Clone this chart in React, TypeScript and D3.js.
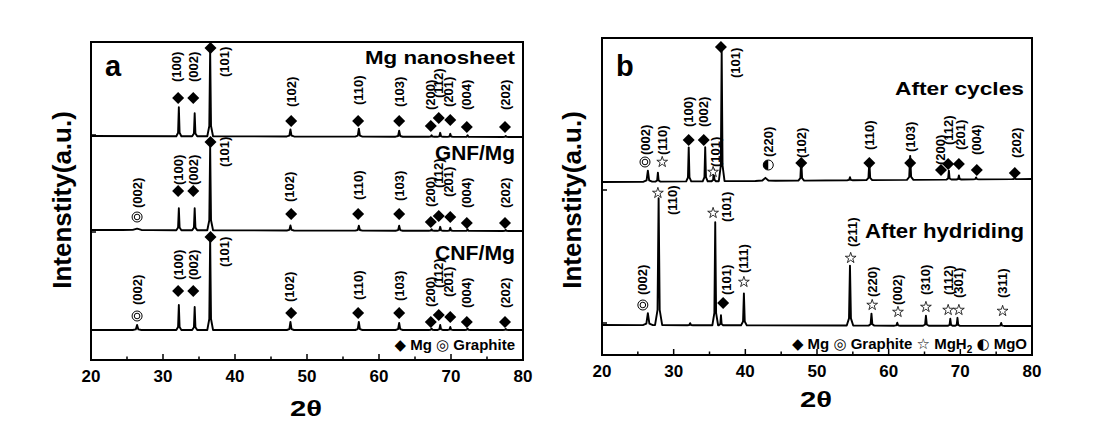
import * as d3 from "d3";

const W = 1116;
const H = 433;
const FONT = "'Liberation Sans', Arial, Helvetica, sans-serif";

// [2θ, height above baseline, half width at the foot]
type Peak = [number, number, number];
// ph: Mg | C (graphite) | H (MgH2) | O (MgO); m = marker level, ll = level of the label foot, lt = label 2θ
type Mark = { ph: string; t: number; m: number; hkl: string; ll: number; lt?: number };

const majorTicks = [20, 30, 40, 50, 60, 70, 80];
const minorTicks = [25, 35, 45, 55, 65, 75];

// ---------- panel a ----------
const nanosheetBase: [number, number][] = [[20, 224], [80, 223]];
const nanosheetPeaks: Peak[] = [
  [32.2, 29, 0.35], [34.4, 23, 0.35], [36.55, 86, 0.4], [47.7, 7, 0.5], [57.2, 8, 0.5],
  [62.8, 6, 0.5], [67.3, 1.5, 0.4], [68.5, 4, 0.4], [69.9, 3, 0.4], [72.3, 1.5, 0.4], [77.6, 1, 0.4],
];
const gnfBase: [number, number][] = [[20, 130], [80, 129]];
const gnfPeaks: Peak[] = [
  [26.4, 1.5, 2], [32.2, 22, 0.35], [34.4, 22, 0.35], [36.55, 84, 0.4], [47.7, 5, 0.5], [57.2, 5, 0.5],
  [62.8, 5, 0.5], [67.3, 1.5, 0.4], [68.5, 4, 0.4], [69.9, 3, 0.4], [72.3, 1.5, 0.4], [77.6, 1, 0.4],
];
const cnfBase: [number, number][] = [[20, 30], [80, 30]];
const cnfPeaks: Peak[] = [
  [26.4, 5, 0.6], [32.2, 25, 0.35], [34.4, 23, 0.35], [36.55, 92, 0.4], [47.7, 8, 0.5], [57.2, 8, 0.5],
  [62.8, 7, 0.5], [67.3, 1.5, 0.4], [68.5, 5, 0.4], [69.9, 3, 0.4], [72.3, 1.5, 0.4], [77.6, 1, 0.4],
];

const nanosheetMarks: Mark[] = [
  { ph: "Mg", t: 32.1, m: 262, hkl: "(100)", ll: 278, lt: 31.9 },
  { ph: "Mg", t: 34.2, m: 262, hkl: "(002)", ll: 278 },
  { ph: "Mg", t: 36.6, m: 312, hkl: "(101)", ll: 283, lt: 38.6 },
  { ph: "Mg", t: 47.8, m: 239, hkl: "(102)", ll: 253 },
  { ph: "Mg", t: 57.1, m: 239, hkl: "(110)", ll: 255 },
  { ph: "Mg", t: 62.8, m: 239, hkl: "(103)", ll: 253 },
  { ph: "Mg", t: 67.2, m: 234, hkl: "(200)", ll: 250, lt: 67.1 },
  { ph: "Mg", t: 68.3, m: 242, hkl: "(112)", ll: 262, lt: 68.2 },
  { ph: "Mg", t: 69.9, m: 240, hkl: "(201)", ll: 253, lt: 69.6 },
  { ph: "Mg", t: 72.2, m: 233, hkl: "(004)", ll: 250 },
  { ph: "Mg", t: 77.5, m: 233, hkl: "(202)", ll: 250 },
];
const gnfMarks: Mark[] = [
  { ph: "C", t: 26.4, m: 143, hkl: "(002)", ll: 152 },
  { ph: "Mg", t: 32.1, m: 169, hkl: "(100)", ll: 175 },
  { ph: "Mg", t: 34.2, m: 169, hkl: "(002)", ll: 175 },
  { ph: "Mg", t: 36.6, m: 218, hkl: "(101)", ll: 193, lt: 38.5 },
  { ph: "Mg", t: 47.8, m: 146, hkl: "(102)", ll: 158, lt: 47.5 },
  { ph: "Mg", t: 57.1, m: 146, hkl: "(110)", ll: 160 },
  { ph: "Mg", t: 62.8, m: 146, hkl: "(103)", ll: 159 },
  { ph: "Mg", t: 67.2, m: 138, hkl: "(200)", ll: 153, lt: 67.1 },
  { ph: "Mg", t: 68.3, m: 144, hkl: "(112)", ll: 172, lt: 68.2 },
  { ph: "Mg", t: 69.9, m: 143, hkl: "(201)", ll: 163, lt: 69.6 },
  { ph: "Mg", t: 72.2, m: 137, hkl: "(004)", ll: 152 },
  { ph: "Mg", t: 77.5, m: 137, hkl: "(202)", ll: 152 },
];
const cnfMarks: Mark[] = [
  { ph: "C", t: 26.4, m: 44, hkl: "(002)", ll: 55 },
  { ph: "Mg", t: 32.1, m: 69, hkl: "(100)", ll: 80 },
  { ph: "Mg", t: 34.2, m: 69, hkl: "(002)", ll: 80 },
  { ph: "Mg", t: 36.6, m: 123, hkl: "(101)", ll: 93, lt: 38.6 },
  { ph: "Mg", t: 47.8, m: 47, hkl: "(102)", ll: 58, lt: 47.5 },
  { ph: "Mg", t: 57.1, m: 47, hkl: "(110)", ll: 60 },
  { ph: "Mg", t: 62.8, m: 47, hkl: "(103)", ll: 59 },
  { ph: "Mg", t: 67.2, m: 38, hkl: "(200)", ll: 53, lt: 67.1 },
  { ph: "Mg", t: 68.3, m: 45, hkl: "(112)", ll: 72, lt: 68.2 },
  { ph: "Mg", t: 69.9, m: 43, hkl: "(201)", ll: 63, lt: 69.6 },
  { ph: "Mg", t: 72.2, m: 38, hkl: "(004)", ll: 52 },
  { ph: "Mg", t: 77.5, m: 38, hkl: "(202)", ll: 52 },
];
const yTicksA = [30, 128, 225];

// ---------- panel b ----------
const cyclesBase: [number, number][] = [[20, 173], [80, 176]];
const cyclesPeaks: Peak[] = [
  [26.4, 11, 0.6], [27.8, 9, 0.35], [32.1, 34, 0.35], [34.4, 34, 0.35], [35.6, 12, 0.3], [36.7, 131, 0.4],
  [42.8, 3, 1.4], [47.8, 21, 0.4], [54.6, 3, 0.4], [57.3, 19, 0.4], [63.0, 24, 0.45],
  [68.4, 9, 0.35], [69.8, 4, 0.35], [72.2, 2, 0.4], [77.6, 1.5, 0.4],
];
const hydridingBase: [number, number][] = [[20, 30], [80, 29]];
const hydridingPeaks: Peak[] = [
  [26.4, 12, 0.7], [27.9, 127, 0.5], [32.3, 2, 0.4], [35.8, 103, 0.4], [36.6, 10, 0.3], [39.8, 32, 0.4],
  [54.6, 60, 0.45], [57.6, 12, 0.4], [61.2, 3, 0.4], [65.2, 10, 0.4], [68.6, 7, 0.35], [69.6, 8, 0.35],
  [75.7, 3, 0.4],
];

const cyclesMarks: Mark[] = [
  { ph: "C", t: 26.0, m: 193, hkl: "(002)", ll: 200 },
  { ph: "H", t: 28.4, m: 193, hkl: "(110)", ll: 200 },
  { ph: "Mg", t: 32.1, m: 215, hkl: "(100)", ll: 228 },
  { ph: "Mg", t: 34.2, m: 215, hkl: "(002)", ll: 228 },
  { ph: "H", t: 35.5, m: 183, hkl: "(101)", ll: 188, lt: 35.9 },
  { ph: "Mg", t: 36.6, m: 308, hkl: "(101)", ll: 277, lt: 38.6 },
  { ph: "O", t: 43.2, m: 190, hkl: "(220)", ll: 198 },
  { ph: "Mg", t: 47.8, m: 192, hkl: "(102)", ll: 197 },
  { ph: "Mg", t: 57.3, m: 192, hkl: "(110)", ll: 205 },
  { ph: "Mg", t: 63.0, m: 192, hkl: "(103)", ll: 203 },
  { ph: "Mg", t: 67.3, m: 185, hkl: "(200)", ll: 190, lt: 67.2 },
  { ph: "Mg", t: 68.3, m: 191, hkl: "(112)", ll: 210, lt: 68.4 },
  { ph: "Mg", t: 69.8, m: 191, hkl: "(201)", ll: 205, lt: 70.0 },
  { ph: "Mg", t: 72.3, m: 185, hkl: "(004)", ll: 200 },
  { ph: "Mg", t: 77.6, m: 182, hkl: "(202)", ll: 197, lt: 77.8 },
];
const hydridingMarks: Mark[] = [
  { ph: "C", t: 25.7, m: 50, hkl: "(002)", ll: 60 },
  { ph: "H", t: 27.8, m: 162, hkl: "(110)", ll: 140, lt: 29.8 },
  { ph: "H", t: 35.5, m: 142, hkl: "(101)", ll: 133, lt: 37.4 },
  { ph: "Mg", t: 36.9, m: 52, hkl: "(101)", ll: 60, lt: 37.4 },
  { ph: "H", t: 39.8, m: 73, hkl: "(111)", ll: 82 },
  { ph: "H", t: 54.7, m: 97, hkl: "(211)", ll: 108, lt: 54.9 },
  { ph: "H", t: 57.7, m: 50, hkl: "(220)", ll: 58 },
  { ph: "H", t: 61.3, m: 43, hkl: "(002)", ll: 50 },
  { ph: "H", t: 65.2, m: 48, hkl: "(310)", ll: 60 },
  { ph: "H", t: 68.3, m: 45, hkl: "(112)", ll: 60 },
  { ph: "H", t: 69.8, m: 45, hkl: "(301)", ll: 57 },
  { ph: "H", t: 75.9, m: 44, hkl: "(311)", ll: 57 },
];
const yTicksB = [32, 165];

// piecewise-linear peak: sharp top, small foot
function peakAt([c, h, w]: Peak, t: number) {
  const d = Math.abs(t - c);
  if (d >= w) return 0;
  const k = 0.3 * w;
  if (d <= k) return h - (h * 0.88 * d) / k;
  return (h * 0.12 * (w - d)) / (w - k);
}

function tracePoints(peaks: Peak[], base: [number, number][]): [number, number][] {
  const knots = new Set<number>();
  base.forEach((b) => knots.add(b[0]));
  peaks.forEach(([c, , w]) => [-1, -0.3, 0, 0.3, 1].forEach((k) => knots.add(+(c + k * w).toFixed(4))));
  const ts = Array.from(knots).filter((t) => t >= 20 && t <= 80).sort((a, b) => a - b);
  const baseAt = d3.scaleLinear().domain(base.map((b) => b[0])).range(base.map((b) => b[1])).clamp(true);
  return ts.map((t) => [t, baseAt(t) + d3.sum(peaks, (p) => peakAt(p, t))]);
}

const starPath = d3.symbol().type(d3.symbolStar).size(36)() as string;

function Marker({ ph, x, y }: { ph: string; x: number; y: number }) {
  if (ph === "Mg")
    return <path d={`M${x},${y - 6}L${x + 6},${y}L${x},${y + 6}L${x - 6},${y}Z`} fill="#000" />;
  if (ph === "C")
    return (
      <g fill="none" stroke="#000" strokeWidth={1}>
        <circle cx={x} cy={y} r={5} />
        <circle cx={x} cy={y} r={2.8} />
      </g>
    );
  if (ph === "H")
    return <path d={starPath} transform={`translate(${x},${y})`} fill="#fff" stroke="#000" strokeWidth={0.8} />;
  return (
    <g>
      <circle cx={x} cy={y} r={5} fill="#fff" stroke="#000" strokeWidth={1} />
      <path d={`M${x},${y - 5}A5,5 0 0 0 ${x},${y + 5}Z`} fill="#000" />
    </g>
  );
}

type Series = { peaks: Peak[]; base: [number, number][]; marks: Mark[] };

function Panel({
  x0, x1, y0, y1, top, series, yTicks, letter, titles, legend,
}: {
  x0: number; x1: number; y0: number; y1: number; top: number;
  series: Series[]; yTicks: number[]; letter: string;
  titles: { text: string; y: number; size: number; len: number }[];
  legend: React.ReactNode;
}) {
  const x = d3.scaleLinear().domain([20, 80]).range([x0, x1]);
  const y = d3.scaleLinear().domain([0, top]).range([y1, y0]);
  const line = d3.line<[number, number]>().x((d) => x(d[0])).y((d) => y(d[1]));
  return (
    <g>
      {series.map((s, i) => (
        <path key={i} d={line(tracePoints(s.peaks, s.base)) || ""} fill="none" stroke="#000" strokeWidth={1.9} strokeLinejoin="round" />
      ))}
      {series.map((s, i) =>
        s.marks.map((m, j) => (
          <g key={`${i}-${j}`}>
            <Marker ph={m.ph} x={x(m.t)} y={y(m.m)} />
            <text
              transform={`translate(${x(m.lt ?? m.t)},${y(m.ll)}) rotate(-90)`}
              dominantBaseline="central"
              fontFamily={FONT}
              fontWeight="bold"
              fontSize={13}
            >
              {m.hkl}
            </text>
          </g>
        ))
      )}
      <rect x={x0} y={y0} width={x1 - x0} height={y1 - y0} fill="none" stroke="#000" strokeWidth={2} />
      {majorTicks.map((t) => (
        <g key={t}>
          <line x1={x(t)} x2={x(t)} y1={y1} y2={y1 - 6} stroke="#000" strokeWidth={1.5} />
          <text x={x(t)} y={y1 + 22} textAnchor="middle" fontFamily={FONT} fontWeight="bold" fontSize={17}>
            {t}
          </text>
        </g>
      ))}
      {minorTicks.map((t) => (
        <line key={t} x1={x(t)} x2={x(t)} y1={y1} y2={y1 - 3.5} stroke="#000" strokeWidth={1.5} />
      ))}
      {yTicks.map((v) => (
        <line key={v} x1={x0} x2={x0 + 5} y1={y(v)} y2={y(v)} stroke="#000" strokeWidth={1.5} />
      ))}
      <text x={x0 + 14} y={76} fontFamily={FONT} fontWeight="bold" fontSize={29}>
        {letter}
      </text>
      {titles.map((t) => (
        <text
          key={t.text}
          x={x1 - 8}
          y={t.y}
          textAnchor="end"
          fontFamily={FONT}
          fontWeight="bold"
          fontSize={t.size}
          textLength={t.len}
          lengthAdjust="spacingAndGlyphs"
        >
          {t.text}
        </text>
      ))}
      {legend}
    </g>
  );
}

const SYM = "'DejaVu Sans', sans-serif";

export default function App() {
  return (
    <svg width={W} height={H} viewBox={`0 0 ${W} ${H}`} style={{ position: "absolute", left: 0, top: 0, background: "#fff" }}>
      <rect width={W} height={H} fill="#fff" />
      <Panel
        x0={91}
        x1={523}
        y0={42}
        y1={360}
        top={318}
        letter="a"
        series={[
          { peaks: nanosheetPeaks, base: nanosheetBase, marks: nanosheetMarks },
          { peaks: gnfPeaks, base: gnfBase, marks: gnfMarks },
          { peaks: cnfPeaks, base: cnfBase, marks: cnfMarks },
        ]}
        yTicks={yTicksA}
        titles={[
          { text: "Mg nanosheet", y: 64, size: 19, len: 150 },
          { text: "GNF/Mg", y: 160, size: 21, len: 80 },
          { text: "CNF/Mg", y: 260, size: 21, len: 80 },
        ]}
        legend={
          <text x={515} y={350} textAnchor="end" fontFamily={FONT} fontWeight="bold" fontSize={15}>
            <tspan fontFamily={SYM}>◆</tspan> Mg <tspan fontFamily={SYM}>◎</tspan> Graphite
          </text>
        }
      />
      <Panel
        x0={602}
        x1={1032}
        y0={38}
        y1={355}
        top={317}
        letter="b"
        series={[
          { peaks: cyclesPeaks, base: cyclesBase, marks: cyclesMarks },
          { peaks: hydridingPeaks, base: hydridingBase, marks: hydridingMarks },
        ]}
        yTicks={yTicksB}
        titles={[
          { text: "After cycles", y: 95, size: 19, len: 129 },
          { text: "After hydriding", y: 238, size: 21, len: 159 },
        ]}
        legend={
          <text x={1027} y={349} textAnchor="end" fontFamily={FONT} fontWeight="bold" fontSize={15}>
            <tspan fontFamily={SYM}>◆</tspan> Mg <tspan fontFamily={SYM}>◎</tspan> Graphite{" "}
            <tspan fontFamily={SYM}>☆</tspan> MgH
            <tspan fontSize={10} dy={4}>2</tspan>
            <tspan dy={-4}> </tspan>
            <tspan fontFamily={SYM}>◐</tspan> MgO
          </text>
        }
      />
      <text transform="translate(62,200) rotate(-90)" textAnchor="middle" dominantBaseline="central" fontFamily={FONT} fontWeight="bold" fontSize={26}>
        Intenstity(a.u.)
      </text>
      <text transform="translate(572,200) rotate(-90)" textAnchor="middle" dominantBaseline="central" fontFamily={FONT} fontWeight="bold" fontSize={26}>
        Intenstity(a.u.)
      </text>
      <text x={306} y={416} textAnchor="middle" fontFamily={FONT} fontWeight="bold" fontSize={22} textLength={32} lengthAdjust="spacingAndGlyphs">
        2θ
      </text>
      <text x={816} y={407} textAnchor="middle" fontFamily={FONT} fontWeight="bold" fontSize={22} textLength={32} lengthAdjust="spacingAndGlyphs">
        2θ
      </text>
    </svg>
  );
}
